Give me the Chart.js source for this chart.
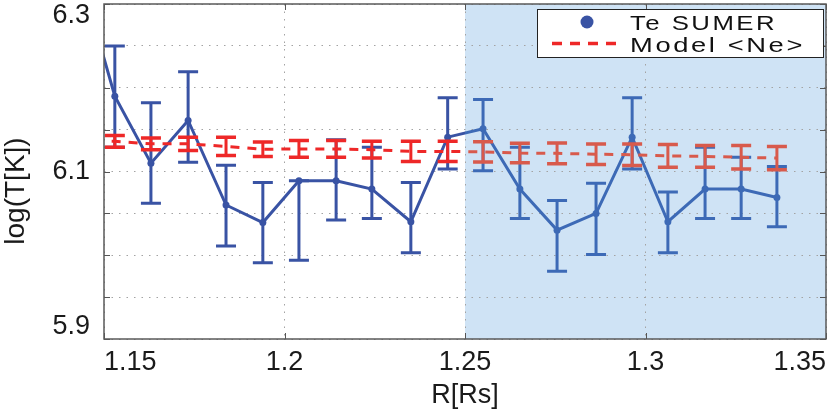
<!DOCTYPE html>
<html>
<head>
<meta charset="utf-8">
<script src="https://cdn.jsdelivr.net/npm/chart.js@4/dist/chart.umd.min.js"></script>
<style>
html,body{margin:0;padding:0;background:#fff;}
canvas{display:block;}
</style>
</head>
<body>
<canvas id="c" width="830" height="414" style="width:830px;height:414px"></canvas>
<script>
// ---- data ----
const radius = [1.1427, 1.1530, 1.1630, 1.1733, 1.1838, 1.1940, 1.2040, 1.2143, 1.2242, 1.2350, 1.2452,
                1.2550, 1.2652, 1.2755, 1.2863, 1.2963, 1.3062, 1.3165, 1.3265, 1.3364];
const teSumer = [6.345, 6.190, 6.110, 6.161, 6.060, 6.039, 6.089, 6.089, 6.079, 6.040, 6.141,
                 6.151, 6.079, 6.030, 6.050, 6.141, 6.040, 6.079, 6.079, 6.069];
const teUpper = [6.400, 6.250, 6.182, 6.219, 6.1075, 6.087, 6.089, 6.138, 6.129, 6.087, 6.188,
                 6.186, 6.129, 6.0655, 6.086, 6.188, 6.0754, 6.129, 6.117, 6.106];
const teLower = [6.290, 6.129, 6.062, 6.111, 6.011, 5.991, 5.994, 6.042, 6.044, 6.003, 6.103,
                 6.101, 6.044, 5.981, 6.001, 6.103, 6.003, 6.044, 6.044, 6.034];
const modelNe = [6.137, 6.136, 6.133, 6.133, 6.130, 6.1265, 6.127, 6.127, 6.126, 6.124, 6.124,
                 6.1234, 6.122, 6.1217, 6.1206, 6.120, 6.1187, 6.118, 6.117, 6.116];
const modelErr = [0.007, 0.007, 0.0071, 0.008, 0.011, 0.0086, 0.010, 0.010, 0.010, 0.012, 0.012,
                  0.012, 0.0117, 0.0123, 0.0123, 0.0129, 0.0135, 0.013, 0.0139, 0.014];
const xTickLabels = ['1.15', '1.2', '1.25', '1.3', '1.35'];
const yTickLabels = ['5.9', '6.1', '6.3'];
const shadeFrom = 1.25;
const seriesNames = ['Te SUMER', 'Model <Ne>'];

// ---- styles ----
const FONT = '"Liberation Sans", Arial, Helvetica, sans-serif';
const BLUE_L = '#3953a4', BLUE_R = '#3d6ab6';
const RED_L = '#ee2828', RED_R = '#d85a4c';
const SHADE = '#cfe3f5';

function splitColor(chart, left, right) {
  if (!chart.chartArea) return left;
  const xp = chart.scales.x.getPixelForValue(shadeFrom);
  const g = chart.ctx.createLinearGradient(0, 0, chart.width, 0);
  const f = Math.min(1, Math.max(0, xp / chart.width));
  g.addColorStop(0, left); g.addColorStop(f, left);
  g.addColorStop(f, right); g.addColorStop(1, right);
  return g;
}

const shadePlugin = {
  id: 'shade',
  beforeDraw(chart) {
    const {ctx, chartArea: a, scales: {x}} = chart;
    const xp = x.getPixelForValue(shadeFrom);
    ctx.save();
    ctx.fillStyle = SHADE;
    ctx.fillRect(xp, a.top, a.right - xp, a.bottom - a.top);
    ctx.restore();
  }
};

const errPlugin = {
  id: 'errbars',
  afterDatasetDraw(chart, args) {
    const {ctx, chartArea: a, scales: {x, y}} = chart;
    const i = args.index;
    ctx.save();
    ctx.beginPath();
    ctx.rect(a.left, a.top, a.right - a.left, a.bottom - a.top);
    ctx.clip();
    ctx.setLineDash([]);
    ctx.lineCap = 'butt';
    for (let k = 0; k < radius.length; k++) {
      const px = x.getPixelForValue(radius[k]);
      let hi, lo, col, cw;
      if (i === 0) {
        hi = teUpper[k]; lo = teLower[k];
        col = radius[k] > shadeFrom ? BLUE_R : BLUE_L; cw = 3;
      } else {
        hi = modelNe[k] + modelErr[k]; lo = modelNe[k] - modelErr[k];
        col = radius[k] > shadeFrom ? RED_R : RED_L; cw = 3.5;
      }
      const yh = y.getPixelForValue(hi), yl = y.getPixelForValue(lo);
      ctx.strokeStyle = col;
      ctx.lineWidth = 3;
      ctx.beginPath();
      ctx.moveTo(px, yh); ctx.lineTo(px, yl);
      ctx.stroke();
      ctx.lineWidth = cw;
      ctx.beginPath();
      ctx.moveTo(px - 10, yh); ctx.lineTo(px + 10, yh);
      ctx.moveTo(px - 10, yl); ctx.lineTo(px + 10, yl);
      ctx.stroke();
    }
    ctx.restore();
  }
};

function fitText(ctx, text, x, y, targetW) {
  const w = ctx.measureText(text).width;
  ctx.save();
  ctx.translate(x, y);
  ctx.scale(targetW / w, 1);
  ctx.fillText(text, 0, 0);
  ctx.restore();
}

const framePlugin = {
  id: 'frame',
  beforeDatasetsDraw(chart) {
    const {ctx, chartArea: a, scales: {x, y}} = chart;
    ctx.save();
    ctx.strokeStyle = '#555';
    ctx.lineWidth = 1;
    ctx.setLineDash([]);
    ctx.beginPath();
    for (let v = 5.9; v <= 6.3001; v += 0.05) {
      const py = Math.round(y.getPixelForValue(v)) + 0.5;
      ctx.moveTo(a.left, py); ctx.lineTo(a.left + 6, py);
      ctx.moveTo(a.right, py); ctx.lineTo(a.right - 6, py);
    }
    xTickLabels.forEach(t => {
      const px = Math.round(x.getPixelForValue(parseFloat(t))) + 0.5;
      ctx.moveTo(px, a.bottom); ctx.lineTo(px, a.bottom - 6);
      ctx.moveTo(px, a.top); ctx.lineTo(px, a.top + 6);
    });
    ctx.stroke();
    ctx.restore();
  },
  afterDraw(chart) {
    const {ctx, chartArea: a, scales: {x, y}} = chart;
    ctx.save();
    ctx.strokeStyle = '#5a5a5a';
    ctx.lineWidth = 1.5;
    ctx.strokeRect(a.left, a.top, a.right - a.left, a.bottom - a.top);

    ctx.fillStyle = '#1a1a1a';
    ctx.font = '27px ' + FONT;
    ctx.textBaseline = 'middle';
    ctx.textAlign = 'right';
    yTickLabels.forEach(t => {
      let py = y.getPixelForValue(parseFloat(t));
      py = Math.min(a.bottom - 12, Math.max(a.top + 12, py));
      ctx.fillText(t, a.left - 14, py);
    });
    ctx.textAlign = 'center';
    ctx.textBaseline = 'alphabetic';
    xTickLabels.forEach(t => {
      const w = ctx.measureText(t).width;
      let px = x.getPixelForValue(parseFloat(t));
      px = Math.min(a.right - w / 2, Math.max(a.left + w / 2, px));
      ctx.fillText(t, px, a.bottom + 31);
    });
    ctx.font = '27px ' + FONT;
    ctx.fillText('R[Rs]', (a.left + a.right) / 2, 403);
    ctx.save();
    ctx.translate(24, 191);
    ctx.rotate(-Math.PI / 2);
    ctx.font = '28px ' + FONT;
    ctx.fillText('log(T[K])', 0, 0);
    ctx.restore();

    // legend
    const lx = 537, ly = 9, lw = 286, lh = 48;
    ctx.fillStyle = '#fff';
    ctx.fillRect(lx, ly, lw, lh);
    ctx.strokeStyle = '#222';
    ctx.lineWidth = 1;
    ctx.strokeRect(lx + 0.5, ly + 0.5, lw, lh);
    ctx.fillStyle = BLUE_L;
    ctx.beginPath();
    ctx.arc(587, 22, 6.5, 0, Math.PI * 2);
    ctx.fill();
    ctx.strokeStyle = RED_L;
    ctx.lineWidth = 3.5;
    ctx.setLineDash([10, 8]);
    ctx.beginPath();
    ctx.moveTo(552, 43.5); ctx.lineTo(624, 43.5);
    ctx.stroke();
    ctx.setLineDash([]);
    ctx.fillStyle = '#111';
    ctx.font = '21px ' + FONT;
    ctx.textAlign = 'left';
    try { ctx.letterSpacing = '2px'; } catch (e) {}
    fitText(ctx, seriesNames[0], 630, 30, 147);
    fitText(ctx, seriesNames[1], 630, 52, 175);
    ctx.restore();
  }
};

const gridCommon = {
  drawTicks: false,
  color: '#a3a3a3',
  lineWidth: 1
};

new Chart(document.getElementById('c'), {
  type: 'line',
  data: {
    datasets: [
      {
        label: seriesNames[0],
        data: radius.map((r, i) => ({x: r, y: teSumer[i]})),
        borderColor: ctx => splitColor(ctx.chart, BLUE_L, BLUE_R),
        borderWidth: 3,
        pointRadius: 3.5,
        pointBorderWidth: 0,
        pointBackgroundColor: ctx => (ctx.raw && ctx.raw.x > shadeFrom) ? BLUE_R : BLUE_L,
        tension: 0,
        clip: 0,
        order: 2
      },
      {
        label: seriesNames[1],
        data: radius.map((r, i) => ({x: r, y: modelNe[i]})),
        borderColor: ctx => splitColor(ctx.chart, RED_L, RED_R),
        borderWidth: 3,
        borderDash: [9, 8],
        pointRadius: 0,
        tension: 0,
        clip: 0,
        order: 1
      }
    ]
  },
  options: {
    responsive: false,
    animation: false,
    devicePixelRatio: 1,
    layout: {padding: {left: 104, right: 3, top: 3, bottom: 75}},
    plugins: {legend: {display: false}, tooltip: {enabled: false}},
    scales: {
      x: {
        type: 'linear', min: 1.15, max: 1.35,
        ticks: {display: false, stepSize: 0.05},
        grid: gridCommon,
        border: {display: false, dash: [1.5, 6]}
      },
      y: {
        type: 'linear', min: 5.9, max: 6.3,
        ticks: {display: false, stepSize: 0.05},
        grid: gridCommon,
        border: {display: false, dash: [1.5, 6]}
      }
    }
  },
  plugins: [shadePlugin, errPlugin, framePlugin]
});
</script>
</body>
</html>
